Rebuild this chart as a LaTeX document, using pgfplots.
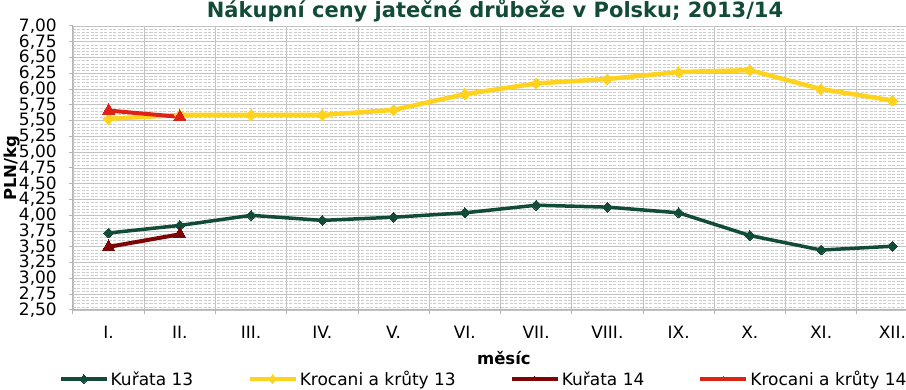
\documentclass[border=0pt]{standalone}
\usepackage{pgfplots}
\pgfplotsset{compat=1.18}
\usepackage{fontspec}
\setmainfont{DejaVu Sans}
\definecolor{grn}{RGB}{18,75,55}
\definecolor{ylw}{RGB}{255,210,30}
\definecolor{dred}{RGB}{125,5,5}
\definecolor{rred}{RGB}{222,35,22}
\definecolor{axgray}{RGB}{180,180,180}
\definecolor{grgray}{RGB}{195,195,195}
\definecolor{mingray}{RGB}{205,205,205}
\begin{document}
\begin{tikzpicture}[x=1pt,y=1pt]
\useasboundingbox (0,0) rectangle (906,390);
\clip (0,0) rectangle (906,390);
\begin{axis}[
  at={(73pt,80pt)}, anchor=south west,
  scale only axis, width=855pt, height=284pt,
  xmin=0.5, xmax=12.5, ymin=2.5, ymax=7,
  axis x line*=bottom, axis y line*=left,
  axis line style={draw=axgray, line width=1pt, -},
  ytick={2.5,2.75,3,3.25,3.5,3.75,4,4.25,4.5,4.75,5,5.25,5.5,5.75,6,6.25,6.5,6.75,7},
  minor y tick num=4,
  ymajorgrids, yminorgrids, xmajorgrids,
  major grid style={draw=grgray, line width=0.8pt},
  minor grid style={draw=mingray, line width=0.6pt, dash pattern=on 3pt off 1.5pt},
  tick align=outside, major tick length=4pt, minor tick length=0pt,
  tick style={draw=axgray, line width=1pt},
  xtick={0.5,1.5,...,12.5}, xticklabels={},
  extra x ticks={1,2,3,4,5,6,7,8,9,10,11,12},
  extra x tick labels={I.,II.,III.,IV.,V.,VI.,VII.,VIII.,IX.,X.,XI.,XII.},
  extra x tick style={grid=none, major tick length=0pt,
     tick label style={inner sep=0pt, anchor=north, yshift=-16pt}},
  /pgf/number format/assume math mode=true,
  yticklabel={\pgfmathprintnumber[fixed,fixed zerofill,precision=2,use comma]{\tick}},
  yticklabel style={inner sep=0pt, anchor=east, xshift=-12pt},
  tick label style={font=\fontsize{17}{18}\selectfont},
  title={Nákupní ceny jatečné drůbeže v Polsku; 2013/14},
  title style={at={(0.4936,1)}, anchor=base, yshift=2pt, font=\fontsize{21}{22}\selectfont\bfseries, text=grn},
  xlabel={měsíc},
  xlabel style={at={(axis description cs:0.504,-0.169)}, anchor=center, font=\fontsize{16.5}{17}\selectfont\bfseries},
  ylabel={PLN/kg},
  ylabel style={at={(axis description cs:-0.0713,0.5)}, anchor=center, rotate=0, font=\fontsize{16.5}{17}\selectfont\bfseries},
  legend columns=4,
  legend style={at={(-0.0164,-0.243)}, anchor=west, draw=none, fill=none, inner sep=0pt,
     font=\fontsize{17}{18}\selectfont,
     /tikz/every even column/.append style={column sep=52pt},
     nodes={inner sep=2pt}},
  legend image code/.code={\draw[mark repeat=2,mark phase=2,#1,mark size=3pt] plot coordinates {(0pt,0pt)(23pt,0pt)(46pt,0pt)};},
]
\addplot[grn, line width=3.5pt, mark=square*, mark size=3.5pt, mark options={rotate=45, line width=0pt}] coordinates {
(1,3.72)(2,3.84)(3,4.00)(4,3.92)(5,3.97)(6,4.04)(7,4.16)(8,4.13)(9,4.04)(10,3.68)(11,3.45)(12,3.51)};
\addlegendentry{Kuřata 13}
\addplot[ylw, line width=4.5pt, mark=square*, mark size=3.8pt, mark options={rotate=45, line width=0pt}] coordinates {
(1,5.53)(2,5.59)(3,5.59)(4,5.59)(5,5.67)(6,5.92)(7,6.09)(8,6.16)(9,6.27)(10,6.30)(11,6.00)(12,5.82)};
\addlegendentry{Krocani a krůty 13}
\addplot[dred, line width=4pt, mark=triangle*, mark size=7pt, mark options={line width=0pt}] coordinates {
(1,3.50)(2,3.70)};
\addlegendentry{Kuřata 14}
\addplot[rred, line width=4pt, mark=triangle*, mark size=7pt, mark options={line width=0pt}] coordinates {
(1,5.66)(2,5.56)};
\addlegendentry{Krocani a krůty 14}
\end{axis}
\end{tikzpicture}
\end{document}
